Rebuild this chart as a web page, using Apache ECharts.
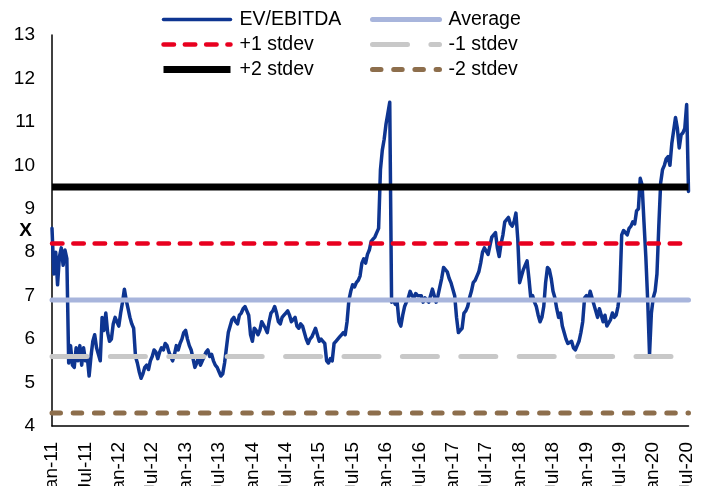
<!DOCTYPE html>
<html>
<head>
<meta charset="utf-8">
<script src="https://cdn.jsdelivr.net/npm/echarts@6/dist/echarts.min.js"></script>
<style>
  html, body { margin: 0; padding: 0; background: #ffffff; }
  #chart { width: 702px; height: 486px; }
</style>
</head>
<body>
<div id="chart"></div>
<script>
// Six-monthly tick labels along the time axis
const tickLabels = ['Jan-11', 'Jul-11', 'Jan-12', 'Jul-12', 'Jan-13', 'Jul-13', 'Jan-14', 'Jul-14',
  'Jan-15', 'Jul-15', 'Jan-16', 'Jul-16', 'Jan-17', 'Jul-17', 'Jan-18', 'Jul-18',
  'Jan-19', 'Jul-19', 'Jan-20', 'Jul-20'];

// EV/EBITDA multiple, three readings per month (1st, 11th, 21st)
const ev2011 = [8.55, 7.5, 8.0, 7.25, 7.9, 8.1, 7.7, 8.05, 7.85, 5.45, 5.85, 5.4,
  5.35, 5.8, 5.5, 5.85, 5.4, 5.8, 5.5, 5.6, 5.15, 5.6, 5.95, 6.1,
  5.8, 5.65, 5.5, 6.5, 6.2, 6.6, 6.15, 5.95, 6.0, 6.35, 6.5, 6.4];
const ev2012 = [6.3, 6.6, 6.85, 7.15, 6.9, 6.7, 6.5, 6.35, 6.25, 5.6, 5.45, 5.25,
  5.1, 5.2, 5.35, 5.4, 5.3, 5.5, 5.6, 5.75, 5.7, 5.55, 5.7, 5.8,
  5.75, 5.9, 5.85, 5.7, 5.6, 5.5, 5.65, 5.85, 5.75, 5.9, 6.0, 6.15];
const ev2013 = [6.2, 6.0, 5.85, 5.75, 5.55, 5.35, 5.45, 5.6, 5.4, 5.5, 5.6, 5.7,
  5.75, 5.6, 5.65, 5.5, 5.4, 5.35, 5.25, 5.15, 5.2, 5.45, 5.8, 6.15,
  6.3, 6.45, 6.5, 6.4, 6.35, 6.55, 6.6, 6.7, 6.75, 6.65, 6.55, 6.1];
const ev2014 = [5.95, 6.25, 6.2, 6.1, 6.2, 6.4, 6.4, 6.25, 6.15, 6.4, 6.6, 6.65,
  6.75, 6.6, 6.4, 6.35, 6.5, 6.55, 6.6, 6.65, 6.55, 6.4, 6.45, 6.5,
  6.3, 6.25, 6.35, 6.3, 6.15, 6.0, 5.9, 6.0, 6.05, 6.15, 6.25, 6.1];
const ev2015 = [5.95, 6.0, 5.95, 5.9, 5.5, 5.45, 5.55, 5.5, 5.9, 5.95, 6.0, 6.05,
  6.1, 6.15, 6.1, 6.4, 6.9, 7.1, 7.25, 7.2, 7.3, 7.35, 7.45, 7.75,
  7.85, 7.75, 7.95, 8.05, 8.25, 8.3, 8.35, 8.45, 8.55, 9.9, 10.35, 10.6];
const ev2016 = [10.95, 11.2, 11.45, 6.85, 6.9, 6.8, 6.85, 6.4, 6.3, 6.55, 6.75, 6.85,
  6.95, 7.1, 7.0, 6.95, 7.05, 7.0, 6.97, 7.0, 6.85, 6.95, 6.9, 6.85,
  6.85, 7.15, 7.0, 6.85, 7.0, 7.2, 7.4, 7.65, 7.6, 7.55, 7.4, 7.3];
const ev2017 = [7.3, 7.0, 6.5, 6.15, 6.2, 6.25, 6.6, 6.65, 6.75, 6.95, 7.1, 7.3,
  7.35, 7.45, 7.55, 7.75, 8.0, 8.1, 8.1, 7.95, 8.15, 8.35, 8.4, 8.45,
  8.1, 7.9, 8.2, 8.4, 8.7, 8.75, 8.8, 8.65, 8.6, 8.7, 8.9, 8.3];
const ev2018 = [7.3, 7.45, 7.6, 7.7, 7.8, 7.4, 6.95, 7.0, 6.85, 6.75, 6.55, 6.4,
  6.5, 6.75, 7.3, 7.65, 7.6, 7.4, 7.1, 6.95, 6.7, 6.5, 6.6, 6.3,
  6.15, 6.0, 5.9, 5.9, 5.95, 5.8, 5.75, 5.85, 5.95, 6.15, 6.4, 6.95];
const ev2019 = [7.0, 6.9, 7.1, 6.95, 6.8, 6.65, 6.5, 6.7, 6.55, 6.4, 6.55, 6.3,
  6.3, 6.45, 6.6, 6.5, 6.55, 6.75, 7.1, 8.4, 8.5, 8.5, 8.4, 8.55,
  8.6, 8.7, 8.65, 8.95, 9.0, 9.7, 9.55, 8.7, 7.9, 6.9, 5.65, 6.6];
const ev2020 = [6.95, 7.1, 7.5, 8.6, 9.6, 9.9, 10.0, 10.15, 10.2, 10.0, 10.5, 10.8,
  11.1, 10.85, 10.4, 10.7, 10.75, 10.85, 11.4, 9.4];

// Long-run average and standard-deviation bands
const average = 6.9;
const plus1Stdev = 8.2;
const minus1Stdev = 5.6;
const plus2Stdev = 9.5;
const minus2Stdev = 4.3;

const evEbitda = [].concat(ev2011, ev2012, ev2013, ev2014, ev2015, ev2016, ev2017, ev2018, ev2019, ev2020);

// One category per reading: yyyy-mm-dd on the 1st, 11th and 21st of each month
const categories = evEbitda.map(function (_, i) {
  const m = Math.floor(i / 3);
  const year = 2011 + Math.floor(m / 12);
  const month = (m % 12) + 1;
  const day = [1, 11, 21][i % 3];
  return year + '-' + String(month).padStart(2, '0') + '-' + String(day).padStart(2, '0');
});
const STEP = 18; // readings per six-month tick

const FONT = '"Liberation Sans", Arial, sans-serif';
const FONT_SIZE = 19;
const first = categories[0];
const last = categories[categories.length - 1];

function band(name, value, color, width, type, cap) {
  return {
    name: name,
    type: 'line',
    data: [[first, value], [last, value]],
    symbol: 'none',
    silent: true,
    lineStyle: { color: color, width: width, type: type, cap: cap },
    itemStyle: { color: color }
  };
}

const legendBase = {
  orient: 'vertical', top: 9.5, padding: 0,
  itemWidth: 67, itemHeight: 14, itemGap: 5,
  lineStyle: { width: 'inherit' },
  // hide the marker dot so only the line sample is drawn
  itemStyle: { opacity: 0, borderWidth: 0 },
  textStyle: { fontSize: 19.5, color: '#000', fontFamily: FONT, padding: [0, 0, 0, 4] }
};

const chart = echarts.init(document.getElementById('chart'), null, { renderer: 'canvas' });

chart.setOption({
  animation: false,
  backgroundColor: '#ffffff',
  textStyle: { fontFamily: FONT },
  grid: { left: 52, right: 13.5, top: 35, bottom: 60, containLabel: false, outerBoundsMode: 'none' },
  legend: [
    Object.assign({}, legendBase, { left: 160, data: ['EV/EBITDA', '+1 stdev', '+2 stdev'] }),
    Object.assign({}, legendBase, { left: 370, data: ['Average', '-1 stdev', '-2 stdev'] })
  ],
  xAxis: {
    type: 'category',
    data: categories,
    boundaryGap: false,
    axisLine: { lineStyle: { color: '#000', width: 1.5 } },
    axisTick: { show: false },
    splitLine: { show: false },
    axisLabel: {
      interval: function (index) { return index % STEP === 0; },
      formatter: function (value, index) { return tickLabels[index / STEP] || ''; },
      rotate: 90,
      margin: 16,
      fontSize: FONT_SIZE,
      color: '#000',
      fontFamily: FONT
    }
  },
  yAxis: {
    type: 'value',
    min: 4, max: 13, interval: 1,
    axisLine: { show: true, lineStyle: { color: '#000', width: 1.5 } },
    axisTick: { show: false },
    splitLine: { show: false },
    axisLabel: { fontSize: FONT_SIZE, color: '#000', margin: 17, fontFamily: FONT },
    name: 'X',
    nameLocation: 'middle',
    nameRotate: 0,
    nameGap: 20,
    nameMoveOverlap: false,
    nameTextStyle: { fontSize: FONT_SIZE, fontWeight: 'bold', color: '#000', fontFamily: FONT, padding: [3, 0, 0, 0] }
  },
  series: [
    {
      name: 'EV/EBITDA',
      type: 'line',
      data: evEbitda,
      symbol: 'none',
      lineStyle: { color: '#0E3591', width: 3.5, join: 'round', cap: 'round' },
      itemStyle: { color: '#0E3591' }
    },
    band('Average', average, '#A8B5DC', 5, 'solid', 'round'),
    band('+1 stdev', plus1Stdev, '#E8001F', 4.5, [10.5, 10.8], 'round'),
    band('-1 stdev', minus1Stdev, '#C8C8C8', 5, [35, 23.4], 'round'),
    band('+2 stdev', plus2Stdev, '#000000', 7, 'solid', 'butt'),
    band('-2 stdev', minus2Stdev, '#8D6E4C', 5, [8.5, 12.7], 'round')
  ]
});
</script>
</body>
</html>
